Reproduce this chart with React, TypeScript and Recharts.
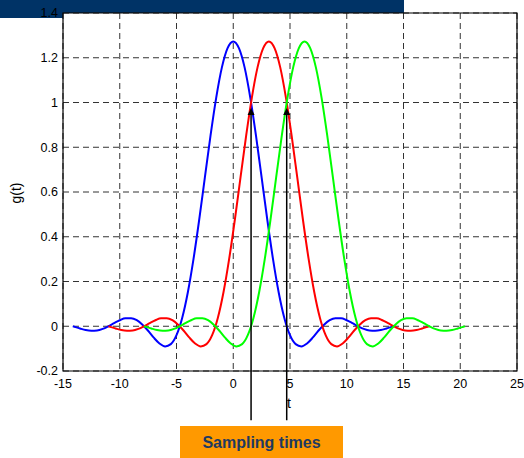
import React from "react";
import {
  LineChart,
  Line,
  XAxis,
  YAxis,
  CartesianGrid,
  ReferenceArea,
  ReferenceLine,
} from "recharts";

// time offsets from each pulse centre, and the pulse value at each offset
const pulseOffsets = [
  -14.14, -14, -13.5, -13, -12.5, -12, -11.5, -11, -10.5, -10, -9.5, -9, -8.5, -8, -7.5, -7,
  -6.5, -6, -5.5, -5, -4.5, -4, -3.5, -3, -2.5, -2, -1.5, -1, -0.5, 0, 0.5, 1, 1.5, 2, 2.5, 3,
  3.5, 4, 4.5, 5, 5.5, 6, 6.5, 7, 7.5, 8, 8.5, 9, 9.5, 10, 10.5, 11, 11.5, 12, 12.5, 13, 13.5,
  14, 14.14,
];
const pulseValues = [
  0, -0.002, -0.01, -0.017, -0.02, -0.019, -0.012, 0, 0.014, 0.027, 0.036, 0.036, 0.027, 0.007,
  -0.02, -0.051, -0.077, -0.09, -0.08, -0.04, 0.037, 0.152, 0.301, 0.476, 0.665, 0.853, 1.022,
  1.157, 1.243, 1.273, 1.243, 1.157, 1.022, 0.853, 0.665, 0.476, 0.301, 0.152, 0.037, -0.04,
  -0.08, -0.09, -0.077, -0.051, -0.02, 0.007, 0.027, 0.036, 0.036, 0.027, 0.014, 0, -0.012,
  -0.019, -0.02, -0.017, -0.01, -0.002, 0,
];
// blue, red and green pulses are centred here
const pulseCentres = [0, 3.14, 6.28];
const pulseColours = ["#0000ff", "#ff0000", "#00ff00"];

// sampling instants marked with arrows
const samplingTimes = [1.57, 4.71];
const arrowTop = 0.975;
const arrowBottom = -0.42;

const xTicks = [-15, -10, -5, 0, 5, 10, 15, 20, 25];
const yTicks = [-0.2, 0, 0.2, 0.4, 0.6, 0.8, 1, 1.2, 1.4];

const FONT = "'Liberation Sans', Arial, sans-serif";

const pulses = pulseCentres.map((c) =>
  pulseOffsets.map((o, i) => ({ t: +(c + o).toFixed(3), g: pulseValues[i] }))
);

function Arrow(props: any) {
  const { x1, y1, x2, y2 } = props;
  const top = Math.min(y1, y2);
  const bottom = Math.max(y1, y2);
  const x = x1 ?? x2;
  return (
    <g>
      <line x1={x} y1={bottom} x2={x} y2={top + 6} stroke="#000" strokeWidth={1.5} />
      <polygon points={`${x},${top} ${x - 3.5},${top + 7} ${x + 3.5},${top + 7}`} fill="#000" />
    </g>
  );
}

export default function App() {
  const tick = { fill: "#000", fontSize: 12.5, fontFamily: FONT };
  return (
    <div
      style={{
        position: "absolute",
        left: 0,
        top: 0,
        width: 524,
        height: 458,
        background: "#fff",
        overflow: "hidden",
        fontFamily: FONT,
      }}
    >
      <div style={{ position: "absolute", left: 0, top: 0, width: 404, height: 18, background: "#003366" }} />
      <div style={{ position: "absolute", left: 0, top: 0 }}>
        <LineChart width={524} height={458} margin={{ top: 13, right: 7, left: 3, bottom: 57 }}>
          <CartesianGrid stroke="#333" strokeDasharray="6 4" fill="#fff" fillOpacity={1} />
          <XAxis
            dataKey="t"
            type="number"
            domain={[-15, 25]}
            ticks={xTicks}
            allowDataOverflow
            tick={tick}
            tickLine={false}
            axisLine={false}
            tickSize={0}
            tickMargin={8}
            height={30}
          />
          <YAxis
            type="number"
            domain={[-0.2, 1.4]}
            ticks={yTicks}
            allowDataOverflow
            tick={tick}
            tickLine={false}
            axisLine={false}
            tickSize={0}
            tickMargin={5}
            width={60}
          />
          <ReferenceArea x1={-15} x2={25} y1={-0.2} y2={1.4} fill="none" fillOpacity={0} stroke="#000" strokeWidth={1.2} />
          {pulses.map((data, i) => (
            <Line
              key={i}
              data={data}
              dataKey="g"
              type="monotone"
              stroke={pulseColours[i]}
              strokeWidth={2}
              dot={false}
              isAnimationActive={false}
            />
          ))}
          {samplingTimes.map((s) => (
            <ReferenceLine
              key={s}
              segment={[
                { x: s, y: arrowBottom },
                { x: s, y: arrowTop },
              ]}
              ifOverflow="visible"
              shape={Arrow}
            />
          ))}
        </LineChart>
      </div>
      <div
        style={{
          position: "absolute",
          left: 16,
          top: 193,
          transform: "translate(-50%, -50%) rotate(-90deg)",
          fontSize: 14,
          color: "#000",
          whiteSpace: "nowrap",
        }}
      >
        g(t)
      </div>
      <div
        style={{
          position: "absolute",
          left: 289,
          top: 403,
          transform: "translate(-50%, -50%)",
          fontSize: 14,
          color: "#000",
        }}
      >
        t
      </div>
      <div
        style={{
          position: "absolute",
          left: 180,
          top: 426,
          width: 163,
          height: 34,
          background: "#ff9900",
          color: "#1f3a60",
          fontWeight: "bold",
          fontSize: 16,
          display: "flex",
          alignItems: "center",
          justifyContent: "center",
        }}
      >
        Sampling times
      </div>
    </div>
  );
}
